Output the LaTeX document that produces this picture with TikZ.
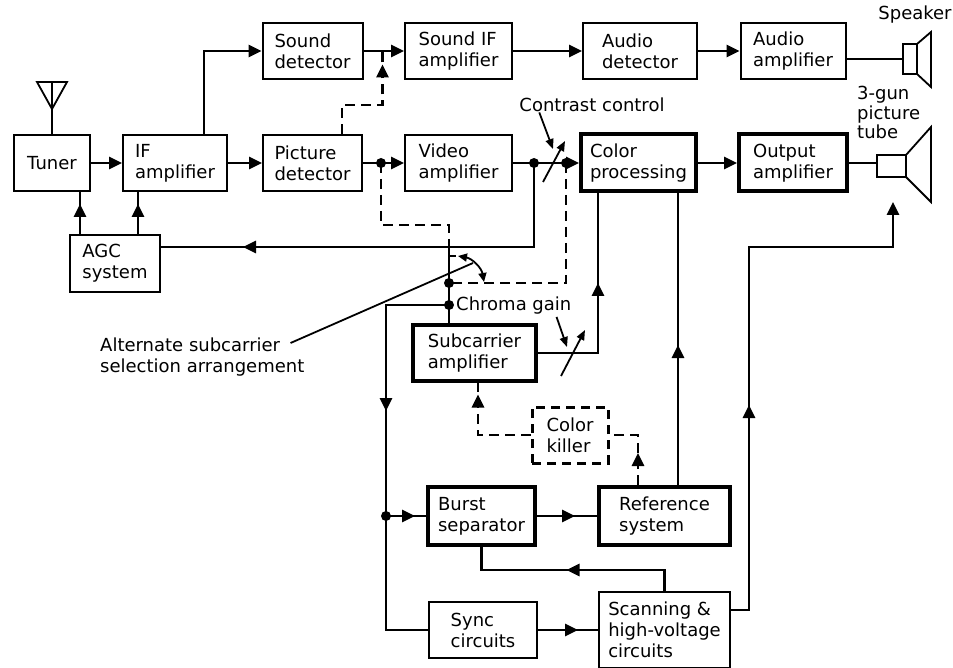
\documentclass[tikz,border=0pt]{standalone}
\usepackage{fontspec}
\setmainfont{DejaVu Sans}
\usetikzlibrary{arrows.meta,positioning,calc,decorations.markings}

\tikzset{
  blk/.style={draw, line width=2pt, align=left, inner sep=0pt},
  bblk/.style={blk, line width=4pt},
  kblk/.style={blk, line width=3pt, dash pattern=on 9pt off 6pt},
  wire/.style={line width=2.8pt},
  dwire/.style={wire, dash pattern=on 10pt off 6pt},
  fine/.style={line width=1.8pt},
  lbl/.style={inner sep=0pt, align=left},
  endtip/.style={-{Triangle[length=13pt,width=12pt]}},
  smalltip/.style={-{Triangle[length=10pt,width=8pt]}},
  midtip/.style={postaction={decorate}, decoration={markings,
    mark=at position #1 with {\arrow{Triangle[length=13pt,width=12pt]}}}}
}

\begin{document}
\begin{tikzpicture}[%
    x=1pt, y=-1pt,
    on grid,
    font=\fontsize{18}{21}\selectfont
    ]
    \useasboundingbox (0,0) rectangle (953,668);

    \node[blk, minimum width=76pt, minimum height=56pt] (tuner) at (52,163) {Tuner};
    \node[blk, minimum width=104pt, minimum height=56pt] (ifamp) [right=123pt of tuner] {IF\\amplifier};
    \node[blk, minimum width=99pt, minimum height=56pt] (picdet) [right=137.5pt of ifamp] {Picture\\detector};
    \node[blk, minimum width=107pt, minimum height=56pt] (vidamp) [right=146pt of picdet] {Video\\amplifier};
    \node[bblk, minimum width=115pt, minimum height=57pt] (colproc) [right=180pt of vidamp] {Color\\processing};
    \node[bblk, minimum width=108pt, minimum height=57pt] (outamp) [right=154.5pt of colproc] {Output\\amplifier};
    \node[blk, minimum width=100pt, minimum height=56pt] (snddet) [above=112pt of picdet] {Sound\\detector};
    \node[blk, minimum width=107pt, minimum height=56pt] (sndif) [above=112pt of vidamp] {Sound IF\\amplifier};
    \node[blk, minimum width=114pt, minimum height=56pt] (auddet) [above right=112pt and 1.5pt of colproc] {Audio\\detector};
    \node[blk, minimum width=105pt, minimum height=56pt] (audamp) [above=112pt of outamp] {Audio\\amplifier};
    \node[blk, minimum width=90pt, minimum height=57pt] (agc) [below left=100.5pt and 60pt of ifamp] {AGC\\system};
    \node[bblk, minimum width=123pt, minimum height=56pt] (subamp) [below right=190pt and 16pt of vidamp] {Subcarrier\\amplifier};
    \node[kblk, minimum width=76pt, minimum height=56pt] (killer) [below left=272pt and 68.5pt of colproc] {Color\\killer};
    \node[bblk, minimum width=107pt, minimum height=58pt] (burst) [below right=163pt and 7pt of subamp] {Burst\\separator};
    \node[bblk, minimum width=131pt, minimum height=58pt] (refsys) [right=183pt of burst] {Reference\\system};
    \node[blk, minimum width=108pt, minimum height=56pt] (sync) [below right=114pt and 1.5pt of burst] {Sync\\circuits};
    \node[blk, minimum width=131pt, minimum height=76pt] (scan) [below=114pt of refsys] {Scanning \&\\high-voltage\\circuits};

    \node[lbl, anchor=base] (spklbl) at (915,20) {Speaker};
    \node[lbl, anchor=north west, font=\fontsize{18}{19.5}\selectfont] (tubelbl) at (857,86) {3-gun\\picture\\tube};
    \node[lbl, anchor=base] (ctrlbl) at (592,112) {Contrast control};
    \node[lbl, anchor=base west] (chlbl) at (456,311) {Chroma gain};
    \node[lbl, anchor=north west] (altlbl) at (100,338) {Alternate subcarrier\\selection arrangement};

    \coordinate (spk) at (903,59);
    \coordinate (tube) at (877,166);
    \coordinate (tubein) at (893,202);
    \coordinate (pdj) at ([xshift=18pt]picdet.east);
    \coordinate (sj) at ([xshift=19pt]snddet.east);
    \coordinate (vj) at ([xshift=21pt]vidamp.east);
    \coordinate (cj) at ([xshift=53pt]vidamp.east);
    \coordinate (ctr) at ([xshift=41pt]vidamp.east);
    \coordinate (swa) at (449,256);
    \coordinate (sw) at (449,283);
    \coordinate (swarc) at (473,263);
    \coordinate (chj) at (449,305);
    \coordinate (bj) at ([xshift=-40pt]burst.west);
    \coordinate (cgv) at ([xshift=35pt]subamp.east);

    \draw[fine] (tuner.north) -- ++(0,-25) coordinate (ant);
    \draw[fine] (ant) -- ++(-15,-27) -- ++(30,0) -- cycle (ant) -- ++(0,-27);
    \draw[fine] (spk) ++(0,-15) rectangle ++(14,30) ++(0,-30) -- ++(14,-12) -- ++(0,55) -- ++(-14,-13);
    \draw[fine] (tube) ++(0,-11) rectangle ++(29,22) ++(0,-22) -- ++(25,-28) -- ++(0,75) -- ++(-25,-25);

    \draw[wire,endtip] (tuner) -- (ifamp);
    \draw[wire,endtip] (ifamp) -- (picdet);
    \draw[wire,endtip] ([xshift=29pt]ifamp.north) |- (snddet);
    \draw[wire,endtip] (snddet) -- (sndif);
    \draw[wire,endtip] (sndif) -- (auddet);
    \draw[wire,endtip] (auddet) -- (audamp);
    \draw[wire] (audamp.east |- spk) -- (spk);
    \draw[wire,endtip] (picdet) -- (vidamp);
    \draw[wire,endtip] (vidamp) -- (colproc);
    \draw[wire,endtip] (colproc) -- (outamp);
    \draw[wire] (outamp.east) -- (outamp.east -| tube);

    \draw[wire,midtip=30pt] ([xshift=-35pt]agc.north) -- ([xshift=-35pt]agc.north |- tuner.south);
    \draw[wire,midtip=30pt] ([xshift=23pt]agc.north) -- ([xshift=23pt]agc.north |- ifamp.south);
    \draw[wire,midtip=375pt] (vj) |- ([yshift=16.5pt]agc.east);

    \draw[dwire,midtip=110pt] ([xshift=29.5pt]picdet.north) -- ++(0,-29) -| (sj);
    \draw[dwire] (pdj) -- ++(0,62) -| ([yshift=9pt]swa);
    \draw[wire] ([yshift=9pt]swa) -- (sw);
    \draw[wire] (swa) -- ++(7,0);
    \draw[dwire] (cj) |- (sw);
    \draw[fine,{Triangle[length=9pt,width=8pt]}-{Triangle[length=9pt,width=8pt]}] ([xshift=9pt]swa) to[bend left=35] ([xshift=35pt,yshift=1pt]sw);
    \draw[fine] ([xshift=-14pt,yshift=-5pt]altlbl.north east) -- (swarc);

    \draw[wire] (sw) -- (chj) -- (chj |- subamp.north);
    \draw[wire,midtip=169pt] (chj) -| (bj) |- (sync);
    \draw[wire,midtip=29pt] (bj) -- (burst);
    \draw[wire,midtip=38pt] (burst) -- (refsys);
    \draw[wire,midtip=119pt] (scan.north) -- ++(0,-21) -| (burst.south);
    \draw[wire,midtip=40pt] (sync) -- (scan);
    \draw[wire,midtip=223pt,endtip] ([yshift=20pt]scan.east) -- ++(18,0) |- ([yshift=-45pt]tubein) -- (tubein);

    \draw[wire,midtip=130pt] (subamp.east) -| ([xshift=-40.5pt]colproc.south);
    \draw[wire,midtip=140pt] ([xshift=13.5pt]refsys.north) -- ([xshift=13.5pt]refsys.north |- colproc.south);
    \draw[dwire,midtip=93pt] (killer) -| ([xshift=3.5pt]subamp.south);
    \draw[dwire,midtip=32pt] ([xshift=-26.5pt]refsys.north) |- (killer);

    \draw[fine,smalltip] ($(ctr)+(-11,19)$) -- ($(ctr)+(11,-22)$);
    \draw[fine,smalltip] ([xshift=20pt]ctrlbl.south west) -- ($(ctr)+(-1,-14)$);
    \draw[fine,smalltip] ($(cgv)+(-12,23)$) -- ($(cgv)+(12,-23)$);
    \draw[fine,smalltip] ([xshift=-15pt,yshift=-2pt]chlbl.south east) -- ($(cgv)+(-6,-6)$);

    \foreach \j in {pdj,vj,cj,sw,chj,bj}
      \fill (\j) circle (5pt);

\end{tikzpicture}
\end{document}
